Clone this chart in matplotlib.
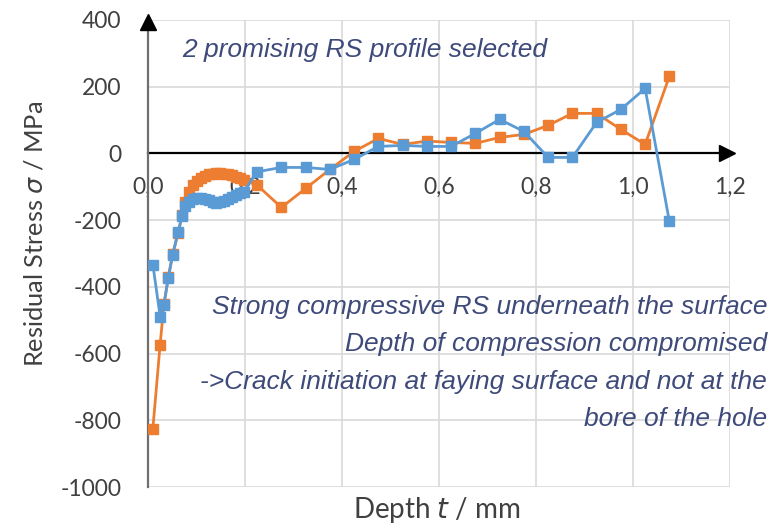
import matplotlib
matplotlib.use("Agg")
import matplotlib.pyplot as plt

# depth in mm, stress in MPa
depth = [0.010, 0.025, 0.033, 0.042, 0.051, 0.062, 0.070, 0.077, 0.085, 0.093,
         0.101, 0.109, 0.117, 0.125, 0.133, 0.141, 0.149, 0.157, 0.165, 0.173,
         0.181, 0.189, 0.197,
         0.225, 0.275, 0.325, 0.375, 0.425, 0.475, 0.525, 0.575, 0.625, 0.675,
         0.725, 0.775, 0.825, 0.875, 0.925, 0.975, 1.025, 1.075]

stress_blue = [-333, -489, -453, -372, -303, -237, -189, -159, -145, -138,
               -134, -133, -136, -141, -146, -148, -147, -143, -137, -130,
               -124, -120, -116,
               -55, -42, -42, -48, -18, 21, 24, 21, 21, 60,
               102, 66, -12, -12, 93, 132, 195, -204]

stress_orange = [-825, -573, -450, -370, -300, -240, -185, -145, -115, -95,
                 -82, -73, -67, -63, -61, -60, -60, -61, -63, -66,
                 -70, -74, -80,
                 -95, -162, -105, -48, 6, 45, 27, 37, 33, 30,
                 48, 57, 84, 120, 120, 72, 27, 231]

x_ticks = [0.0, 0.2, 0.4, 0.6, 0.8, 1.0, 1.2]
x_labels = ["0,0", "0,2", "0,4", "0,6", "0,8", "1,0", "1,2"]
y_ticks = [400, 200, 0, -200, -400, -600, -800, -1000]

note_top = "2 promising RS profile selected"
note_lines = ["Strong compressive RS underneath the surface",
              "Depth of compression compromised",
              "->Crack initiation at faying surface and not at the",
              "bore of the hole"]

blue = "#5B9BD5"
orange = "#ED7D31"
note_color = "#3E4A7A"

plt.rcParams["font.family"] = ["Lato", "DejaVu Sans"]
plt.rcParams["axes.unicode_minus"] = False

fig = plt.figure(figsize=(7.69, 5.28), dpi=100)
ax = fig.add_axes([148 / 769, 1 - 487 / 528, (730 - 148) / 769, (487 - 20) / 528])

ax.plot(depth, stress_orange, color=orange, lw=2, marker="s", ms=6.5, zorder=3)
ax.plot(depth, stress_blue, color=blue, lw=2, marker="s", ms=6.5, zorder=4)

ax.set_xlim(0, 1.2)
ax.set_ylim(-1000, 400)
ax.set_xticks(x_ticks)
ax.set_xticklabels(x_labels)
ax.set_yticks(y_ticks)
ax.grid(True, color="#d9d9d9", lw=1.2)
ax.set_axisbelow(True)

for s in ["top", "right"]:
    ax.spines[s].set_visible(False)
ax.spines["bottom"].set_position(("data", 0))
ax.spines["bottom"].set_color("black")
ax.spines["bottom"].set_linewidth(1.6)
ax.spines["bottom"].set_zorder(2)
ax.spines["left"].set_color("#6f6f6f")
ax.spines["left"].set_linewidth(1.6)

ax.tick_params(axis="both", length=0, labelsize=16.5, colors="#404040")
ax.tick_params(axis="x", pad=17)
ax.tick_params(axis="y", pad=19)

# arrow heads on the axes
ax.plot(0.994, 0, marker=">", color="black", ms=11, transform=ax.get_yaxis_transform(),
        clip_on=False, zorder=5)
ax.plot(0, 0.995, marker="^", color="black", ms=11, transform=ax.get_xaxis_transform(),
        clip_on=False, zorder=5)

fig.text(35 / 769, 1 - 234 / 528, "Residual Stress $\\it{\\sigma}$ / MPa", fontsize=18.3,
         color="#404040", rotation=90, ha="center", va="center")
fig.text(437 / 769, 1 - 510 / 528, "Depth $\\it{t}$ / mm", fontsize=20, color="#404040",
         ha="center", va="center")

fig.text(182 / 769, 1 - 50 / 528, note_top, fontsize=19, style="italic", color=note_color,
         family="Liberation Sans", va="center")
for i, line in enumerate(note_lines):
    fig.text(767 / 769, 1 - (307 + 37.3 * i) / 528, line, fontsize=19, style="italic",
             color=note_color, family="Liberation Sans", ha="right", va="center")

fig.savefig("out.png", dpi=100)
